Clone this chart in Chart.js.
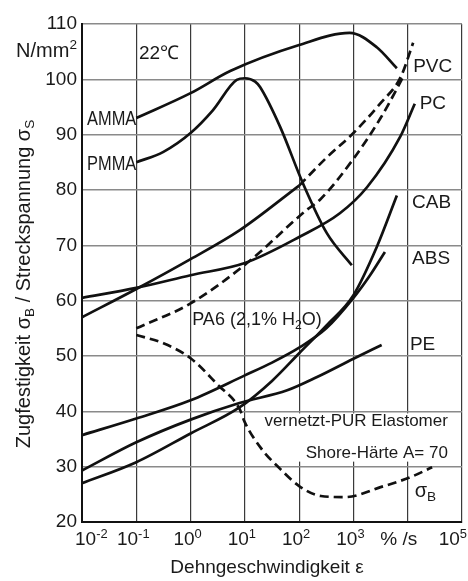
<!DOCTYPE html>
<html>
<head>
<meta charset="utf-8">
<script src="https://cdn.jsdelivr.net/npm/chart.js@4.4.1/dist/chart.umd.min.js"></script>
<style>
  html, body { margin: 0; padding: 0; background: #fff; }
  #chart { display: block; }
</style>
</head>
<body>
<canvas id="chart" width="468" height="581"></canvas>
<script>
// strain rate is kept as the power of ten (10^exp %/s), stress in N/mm2
const tickExp = [-2, -1, 0, 1, 2, 3, 4, 5];
const tickSup = ['-2', '-1', '0', '1', '2', '3', null, '5']; // the 10^4 place carries the unit

const ammaExp = [-1, 0, 0.73, 2, 2.93, 3.43, 3.8];
const ammaVal = [93, 97.5, 101.5, 106.2, 108.4, 105.8, 102];

const pmmaExp = [-1, -0.5, 0, 0.41, 0.85, 1.0, 1.19, 1.28, 1.65, 2.07, 2.51, 2.97];
const pmmaVal = [85, 86.9, 90.3, 94.4, 99.9, 100.2, 99.6, 98.6, 91.4, 81.2, 72.2, 66.4];

const pvcExp = [-2, -1, 0, 0.9, 2];
const pvcVal = [57, 62.1, 67.5, 72.7, 80.8];
const pvcBreakExp = [2, 2.5, 3, 3.5, 3.87, 4.1];
const pvcBreakVal = [80.8, 85.8, 90.3, 95.7, 100.4, 106.6];

const pcExp = [-2, -1, 0, 1, 2, 2.75, 3.25, 3.86, 4.13];
const pcVal = [60.5, 62.3, 64.6, 66.8, 71.5, 75.8, 80.5, 89.6, 95.6];

const pa6Exp = [-1, 0, 1.04, 2.14, 2.38, 2.99, 3.5, 3.8, 3.91];
const pa6Val = [55, 59.5, 66.8, 76.4, 78.2, 85.5, 93, 98.3, 100.4];

const cabExp = [-2, -1, 0, 0.9, 1.5, 2, 2.5, 3, 3.43, 3.8];
const cabVal = [27, 30.8, 36, 40.7, 45.5, 50.5, 55.5, 61, 69.7, 79];

const absExp = [-2, -1, 0, 1, 1.5, 2, 2.5, 3, 3.3, 3.58];
const absVal = [35.7, 38.7, 42, 46.5, 48.8, 51.5, 55, 60.5, 64.5, 68.8];

const peExp = [-2, -1, 0, 0.9, 1.78, 2.33, 3, 3.52];
const peVal = [29.3, 34.4, 38.5, 41.5, 43.8, 46.2, 49.5, 52];

const purExp = [-1, -0.5, 0, 0.5, 0.9, 1.0, 1.3, 1.65, 2.0, 2.4, 2.85, 3.5, 4.05, 4.45];
const purVal = [53.8, 52.3, 49.6, 44.8, 40.5, 38, 33.3, 29.6, 26.5, 24.7, 24.5, 26.3, 28.1, 29.9];

const FONT = '"Liberation Sans", Arial, Helvetica, sans-serif';

function pts(exps, vals) {
    return exps.map((e, i) => ({ x: Math.pow(10, e), y: vals[i] }));
}

function curve(exps, vals, dashed) {
    return {
        data: pts(exps, vals),
        borderColor: '#111',
        borderWidth: 2.7,
        borderDash: dashed ? [9, 5] : [],
        pointRadius: 0,
        fill: false,
        cubicInterpolationMode: 'monotone'
    };
}

// text with sub/superscript parts: [[text, 'sub'|'sup'|undefined], ...]
function richWidth(ctx, parts, size) {
    let w = 0;
    for (const [t, k] of parts) {
        ctx.font = (k ? size * 0.68 : size) + 'px ' + FONT;
        w += ctx.measureText(t).width;
    }
    return w;
}

function drawRich(ctx, parts, x, y, size, align) {
    const w = richWidth(ctx, parts, size);
    let cx = align === 'right' ? x - w : align === 'center' ? x - w / 2 : x;
    ctx.textAlign = 'left';
    ctx.textBaseline = 'alphabetic';
    for (const [t, k] of parts) {
        const s = k ? size * 0.68 : size;
        ctx.font = s + 'px ' + FONT;
        const dy = k === 'sub' ? size * 0.22 : k === 'sup' ? -size * 0.38 : 0;
        ctx.fillText(t, cx, y + dy);
        cx += ctx.measureText(t).width;
    }
    return w;
}

// labels inside the plot, placed at (exp, value)
const notes = [
    { parts: [['22℃']], exp: -0.95, val: 105, size: 19, align: 'left' },
    { parts: [['AMMA']], exp: -1.0, val: 93, size: 20, align: 'right', squeeze: 0.82 },
    { parts: [['PMMA']], exp: -1.0, val: 85, size: 20, align: 'right', squeeze: 0.82 },
    { parts: [['PVC']], exp: 4.1, val: 102.6, size: 19, align: 'left' },
    { parts: [['PC']], exp: 4.22, val: 95.9, size: 19, align: 'left' },
    { parts: [['CAB']], exp: 4.08, val: 78, size: 19, align: 'left' },
    { parts: [['ABS']], exp: 4.08, val: 67.9, size: 19, align: 'left' },
    { parts: [['PE']], exp: 4.04, val: 52.3, size: 19, align: 'left' },
    { parts: [['PA6 (2,1% H'], ['2', 'sub'], ['O)']], exp: 0.03, val: 56.8, size: 18, align: 'left' },
    { parts: [['vernetzt-PUR Elastomer']], exp: 4.74, val: 38.4, size: 17, align: 'right', box: true },
    { parts: [['Shore-Härte A= 70']], exp: 4.74, val: 32.6, size: 17, align: 'right', box: true },
    { parts: [['σ'], ['B', 'sub']], exp: 4.13, val: 25.9, size: 20, align: 'left' }
];

const textPlugin = {
    id: 'texts',
    beforeDatasetsDraw(chart) {
        // one white patch behind the elastomer caption
        const ctx = chart.ctx;
        const x = chart.scales.x, y = chart.scales.y;
        let l = Infinity, r = -Infinity, t = Infinity, b = -Infinity;
        for (const n of notes) {
            if (!n.box) continue;
            const px = x.getPixelForValue(Math.pow(10, n.exp));
            const py = y.getPixelForValue(n.val);
            const w = richWidth(ctx, n.parts, n.size);
            l = Math.min(l, px - w - 3);
            r = Math.max(r, px + 3);
            t = Math.min(t, py - n.size * 0.4);
            b = Math.max(b, py + n.size * 0.55);
        }
        ctx.save();
        ctx.fillStyle = '#fff';
        ctx.fillRect(l, t, r - l, b - t);
        ctx.restore();
    },
    afterDraw(chart) {
        const ctx = chart.ctx;
        const x = chart.scales.x, y = chart.scales.y;
        const area = chart.chartArea;
        ctx.save();
        ctx.fillStyle = '#1a1a1a';

        for (const n of notes) {
            const px = x.getPixelForValue(Math.pow(10, n.exp));
            const py = y.getPixelForValue(n.val) + n.size * 0.36;
            if (n.squeeze) {
                ctx.save();
                ctx.translate(px, py);
                ctx.scale(n.squeeze, 1);
                drawRich(ctx, n.parts, 0, 0, n.size, n.align);
                ctx.restore();
            } else {
                drawRich(ctx, n.parts, px, py, n.size, n.align);
            }
        }

        // unit above the y ticks
        drawRich(ctx, [['N/mm'], ['2', 'sup']], area.left - 5, y.getPixelForValue(105.3) + 7, 20, 'right');

        // x tick labels as powers of ten
        const base = area.bottom + 23;
        tickExp.forEach((e, i) => {
            const unit = tickSup[i] === null;
            const parts = unit ? [['% /s']] : [['10'], [tickSup[i], 'sup']];
            const w = richWidth(ctx, parts, 19);
            let cx = x.getPixelForValue(Math.pow(10, e)) - (unit ? 9 : 3);
            cx = Math.min(Math.max(cx, 75 + w / 2), chart.width - 1 - w / 2);
            drawRich(ctx, parts, cx, base, 19, 'center');
        });

        // axis titles
        drawRich(ctx, [['Dehngeschwindigkeit ε']], (area.left + area.right) / 2 - 5, chart.height - 8, 19, 'center');

        ctx.save();
        ctx.translate(30, 284);
        ctx.rotate(-Math.PI / 2);
        drawRich(ctx, [['Zugfestigkeit σ'], ['B', 'sub'], [' / Streckspannung σ'], ['S', 'sub']], 0, 0, 20, 'center');
        ctx.restore();

        ctx.restore();
    }
};

new Chart(document.getElementById('chart'), {
    type: 'line',
    data: {
        datasets: [
            curve(ammaExp, ammaVal, false),
            curve(pmmaExp, pmmaVal, false),
            curve(pvcExp, pvcVal, false),
            curve(pvcBreakExp, pvcBreakVal, true),
            curve(pcExp, pcVal, false),
            curve(pa6Exp, pa6Val, true),
            curve(cabExp, cabVal, false),
            curve(absExp, absVal, false),
            curve(peExp, peVal, false),
            curve(purExp, purVal, true)
        ]
    },
    options: {
        responsive: false,
        animation: false,
        layout: { padding: { top: 24, right: 6, left: 0, bottom: 0 } },
        plugins: {
            legend: { display: false },
            tooltip: { enabled: false }
        },
        scales: {
            x: {
                type: 'logarithmic',
                min: Math.pow(10, tickExp[0]),
                max: Math.pow(10, tickExp[tickExp.length - 1]),
                afterBuildTicks: scale => {
                    scale.ticks = tickExp.map(e => ({ value: Math.pow(10, e) }));
                },
                afterFit: scale => { scale.height = 59; },
                ticks: { display: false },
                grid: { color: '#3a3a3a', lineWidth: 1.2, drawTicks: false },
                border: { color: '#111', width: 2 }
            },
            y: {
                min: 20,
                max: 110,
                afterFit: scale => { scale.width = 82; },
                ticks: {
                    stepSize: 10,
                    padding: 5,
                    color: '#1a1a1a',
                    font: { family: FONT, size: 19 }
                },
                grid: { color: '#8a8a8a', lineWidth: 1.6, drawTicks: false },
                border: { color: '#111', width: 2 }
            }
        }
    },
    plugins: [textPlugin]
});
</script>
</body>
</html>
